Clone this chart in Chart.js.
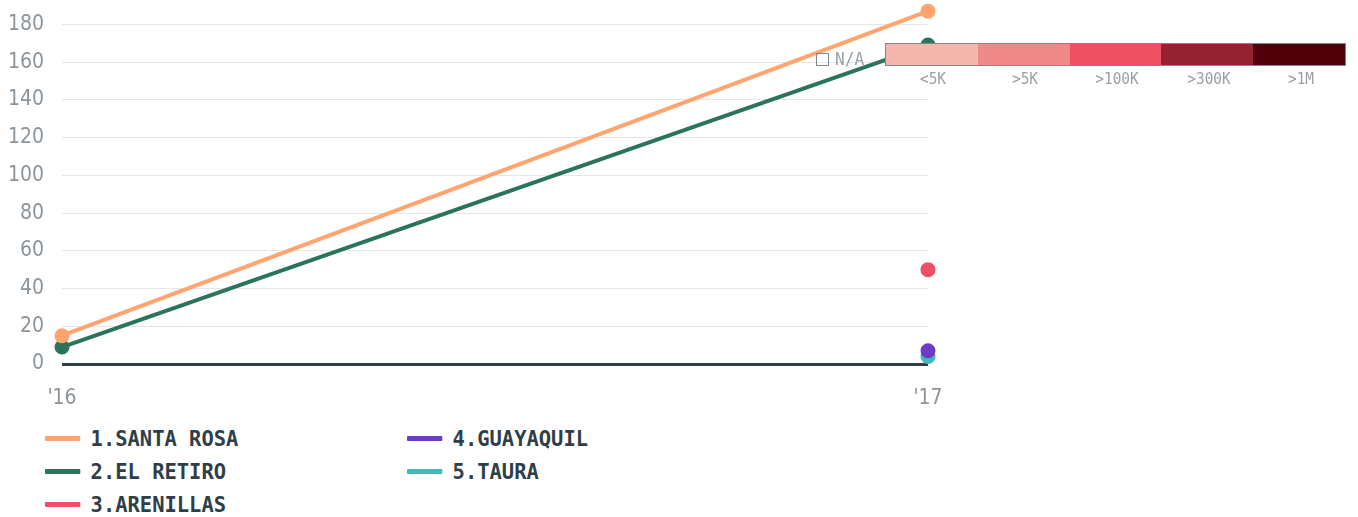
<!DOCTYPE html>
<html><head><meta charset="utf-8">
<script src="https://cdn.jsdelivr.net/npm/chart.js@4/dist/chart.umd.min.js"></script>
<style>
html,body{margin:0;padding:0;background:#fff;width:1358px;height:517px;overflow:hidden;font-family:"DejaVu Sans Mono",monospace;}
#wrap{position:absolute;left:0;top:-4px;width:960px;height:424px;z-index:1;}
.leg{position:absolute;display:flex;align-items:center;font-weight:bold;font-size:22px;color:#2f3e47;transform:scaleX(0.93);transform-origin:left center;white-space:nowrap;}
.leg span.sw{display:inline-block;width:38px;height:5px;margin-right:11px;border-radius:1px;}
#scale{position:absolute;left:885px;top:43px;width:459px;height:21px;border:1px solid #7d878d;display:flex;z-index:5;background:#fff;}
#scale div{flex:1;}
.sl{position:absolute;top:69px;width:92px;text-align:center;font-size:16px;color:#98a1a7;transform:scaleX(0.9);z-index:5;}
#na{position:absolute;left:816px;top:53px;width:11px;height:11px;border:1.5px solid #7d878d;z-index:5;}
#natx{position:absolute;left:835px;top:49px;font-size:17px;color:#98a1a7;transform:scaleX(0.95);transform-origin:left center;z-index:5;}
</style></head><body>
<div id="wrap"><canvas id="c"></canvas></div>
<div id="na"></div><div id="natx">N/A</div>
<div id="scale"></div>
<div id="scaleLabels"></div>
<div id="legend"></div>
<script>
const categories = ["'16", "'17"];
const seriesNames = ["1.SANTA ROSA", "2.EL RETIRO", "3.ARENILLAS", "4.GUAYAQUIL", "5.TAURA"];
const santaRosa = [15, 187];
const elRetiro = [9, 169];
const arenillas = [null, 50];
const guayaquil = [null, 7];
const taura = [null, 4];
const seriesColors = ["#ffa46e", "#2b7459", "#ee4e66", "#6d3bc8", "#3fb9b9"];
const yTicks = [0, 20, 40, 60, 80, 100, 120, 140, 160, 180];
const scaleLabels = ["<5K", ">5K", ">100K", ">300K", ">1M"];
const scaleColors = ["#f5b7ad", "#f08a89", "#ef5064", "#942230", "#4f0009"];

const seriesData = [santaRosa, elRetiro, arenillas, guayaquil, taura];

const datasets = seriesNames.map((n, i) => ({
  label: n,
  data: seriesData[i],
  borderColor: seriesColors[i],
  backgroundColor: seriesColors[i],
  pointBackgroundColor: seriesColors[i],
  pointBorderColor: seriesColors[i],
  borderWidth: 4,
  pointRadius: 5.5,
  pointHoverRadius: 5.5,
  tension: 0,
  spanGaps: false,
  clip: false,
  order: i
}));

const tickFont = { family: "'DejaVu Sans Condensed', 'DejaVu Sans', sans-serif", size: 21 };

new Chart(document.getElementById('c'), {
  type: 'line',
  data: { labels: categories, datasets },
  options: {
    responsive: true,
    maintainAspectRatio: false,
    animation: false,
    layout: { padding: { top: 0, right: 32, left: 0, bottom: 0 } },
    plugins: { legend: { display: false }, tooltip: { enabled: false } },
    scales: {
      x: {
        offset: false,
        grid: { display: false, drawTicks: false },
        border: { display: false },
        ticks: { color: '#8c959b', font: tickFont, padding: 22, maxRotation: 0 },
        afterFit: s => { s.height = 56; s.paddingLeft = 0; s.paddingRight = 0; }
      },
      y: {
        min: 0, max: 190,
        afterBuildTicks: s => { s.ticks = yTicks.map(v => ({ value: v })); },
        grid: {
          drawTicks: false,
          color: ctx => ctx.tick && ctx.tick.value === 0 ? '#2f3e47' : '#e6e6e6',
          lineWidth: ctx => ctx.tick && ctx.tick.value === 0 ? 3 : 1
        },
        border: { display: false },
        ticks: { color: '#8c959b', font: tickFont, padding: 18 },
        afterFit: s => { s.width = 62; s.paddingTop = 0; s.paddingBottom = 0; }
      }
    }
  }
});

// color scale legend
const sc = document.getElementById('scale');
const sll = document.getElementById('scaleLabels');
scaleColors.forEach((c, i) => {
  const d = document.createElement('div'); d.style.background = c; sc.appendChild(d);
  const l = document.createElement('div'); l.className = 'sl';
  l.style.left = (887 + i * 92) + 'px'; l.textContent = scaleLabels[i]; sll.appendChild(l);
});

// series legend
const lg = document.getElementById('legend');
seriesNames.forEach((n, i) => {
  const col = i < 3 ? 0 : 1, row = i < 3 ? i : i - 3;
  const e = document.createElement('div'); e.className = 'leg';
  e.style.left = (col ? 407 : 45) + 'px';
  e.style.top = (426 + row * 33) + 'px';
  e.innerHTML = '<span class="sw" style="background:' + seriesColors[i] + '"></span>' + n;
  lg.appendChild(e);
});
</script>
</body></html>
